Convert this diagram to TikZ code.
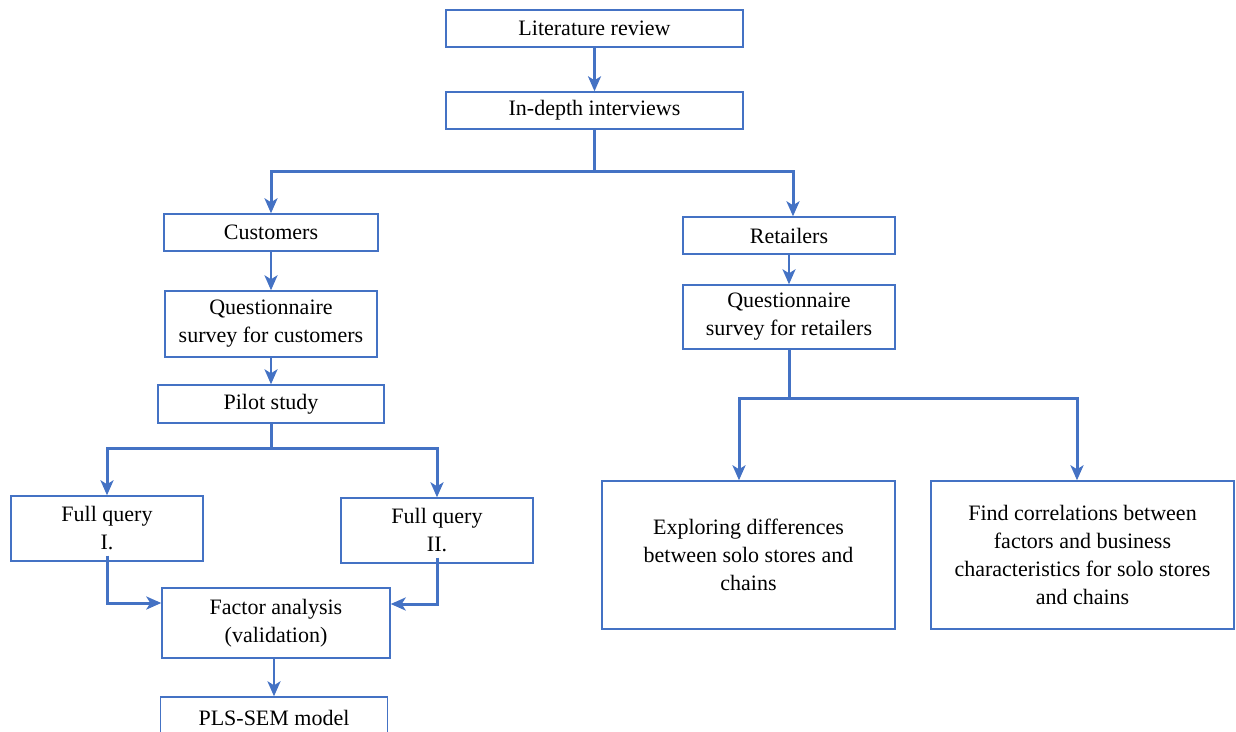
\documentclass[tikz,border=0pt]{standalone}
\usepackage{fontspec}
\setmainfont{Liberation Serif}
\usetikzlibrary{arrows.meta}
\definecolor{bblue}{HTML}{4472C4}
\tikzset{
  box/.style={draw=bblue, line width=1.4pt, align=center, inner sep=0pt,
    font=\fontsize{22}{28}\selectfont, text=black},
  link/.style={draw=bblue, line width=3pt},
  conn/.style={link, -{Stealth[length=15pt,width=13pt,inset=4pt]}},
  thin/.style={conn, line width=2.4pt}
}
\begin{document}
\begin{tikzpicture}[x=1pt,y=-1pt]
\useasboundingbox (0,0) rectangle (1236,731);
\node[box, minimum width=297, minimum height=37] (lit) at (594.5,28.5) {Literature review};
\node[box, minimum width=297, minimum height=37] (int) at (594.5,110.5) {In-depth interviews};
\node[box, minimum width=214, minimum height=37] (cust) at (271,232.5) {Customers};
\node[box, minimum width=212, minimum height=37] (ret) at (789,235.5) {Retailers};
\node[box, minimum width=212, minimum height=66] (qc) at (271,324) {Questionnaire\\survey for customers};
\node[box, minimum width=212, minimum height=64] (qr) at (789,317) {Questionnaire\\survey for retailers};
\node[box, minimum width=226, minimum height=38] (pilot) at (271,404) {Pilot study};
\node[box, minimum width=192, minimum height=65] (fq1) at (107,528.5) {Full query\\I.};
\node[box, minimum width=192, minimum height=65] (fq2) at (437,530.5) {Full query\\II.};
\node[box, minimum width=228, minimum height=70] (fa) at (276,623) {Factor analysis\\(validation)};
\node[box, minimum width=227, minimum height=42] (pls) at (274,718) {PLS-SEM model};
\node[box, minimum width=293, minimum height=148] (ex) at (748.5,555) {Exploring differences\\between solo stores and\\chains};
\node[box, minimum width=303, minimum height=148] (fc) at (1082.5,555) {Find correlations between\\factors and business\\characteristics for solo stores\\and chains};

\coordinate (b1) at (594.5,171);
\coordinate (b2) at (271,448);
\coordinate (b3) at (789,398);

\draw[thin] (lit) -- (int);
\draw[link] (int.south) -- (b1);
\draw[conn] (b1) -| (cust.north);
\draw[conn] (b1) -| ([xshift=4pt]ret.north);
\draw[thin] (cust) -- (qc);
\draw[thin] (qc) -- (pilot);
\draw[link] (pilot.south) -- (b2);
\draw[conn] (b2) -| (fq1.north);
\draw[conn] (b2) -| (fq2.north);
\draw[conn] ([yshift=6pt]fq1.south) |- ([yshift=20pt]fa.west);
\draw[conn] ([yshift=6pt]fq2.south) |- ([yshift=19pt]fa.east);
\draw[thin] ([xshift=-2pt]fa.south) -- ([xshift=-2pt]fa.south |- pls.north);
\draw[thin] (ret) -- (qr);
\draw[link] (qr.south) -- (b3);
\draw[conn] (b3) -| ([xshift=-9.5pt]ex.north);
\draw[conn] (b3) -| ([xshift=-5.5pt]fc.north);
\end{tikzpicture}
\end{document}
